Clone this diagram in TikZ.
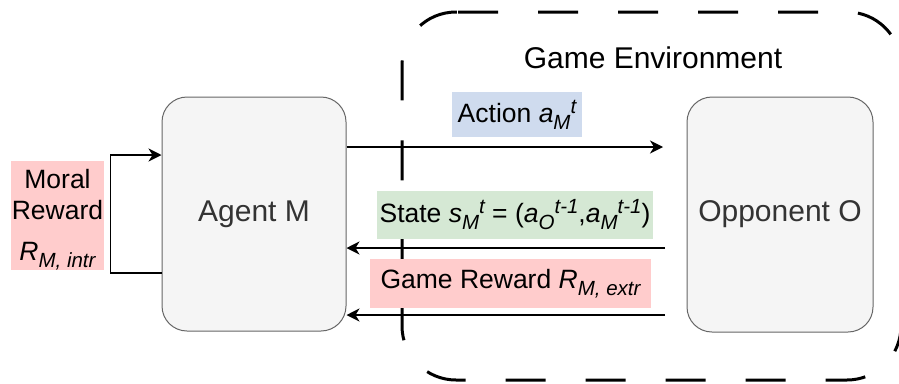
\documentclass[tikz,border=0pt]{standalone}
\usepackage{fontspec}
\setmainfont{Liberation Sans}
\usetikzlibrary{arrows.meta}
\definecolor{boxfill}{HTML}{F5F5F5}
\definecolor{boxline}{HTML}{666666}
\definecolor{boxtext}{HTML}{333333}
\definecolor{lblblue}{HTML}{CFDBEE}
\definecolor{lblgreen}{HTML}{D5E8D4}
\definecolor{lblpink}{HTML}{FFCCCC}
\newcommand\lo[1]{\raisebox{-7pt}{\fontsize{20.5}{20}\selectfont\itshape #1}}
\newcommand\hi[1]{\raisebox{9pt}{\fontsize{20.5}{20}\selectfont\itshape #1}}
\tikzset{
  actor/.style={draw=boxline, line width=1pt, fill=boxfill, rounded corners=25pt,
    text=boxtext, font=\fontsize{30}{36}\selectfont, inner sep=0pt},
  lbl/.style={inner sep=0pt, font=\fontsize{26.5}{31}\selectfont, text=black},
  arr/.style={line width=1.5pt, -{Stealth[length=13pt,width=13pt,inset=4pt]}},
  envline/.style={line width=3pt, dash pattern=on 40pt off 40pt, rounded corners=54pt}
}
\begin{document}
\begin{tikzpicture}[x=1pt,y=-1pt]
\useasboundingbox (0,0) rectangle (899,383);
% environment
\draw[envline] (458,12) -- (901,12) -- (901,380) -- (402,380) -- (402,12) -- (458,12);
\node[font=\fontsize{30}{36}\selectfont] (envtitle) at (653,58) {Game Environment};
% actors
\node[actor, minimum width=184pt, minimum height=234pt] (agent) at (254,214) {Agent M};
\node[actor, minimum width=186pt, minimum height=235pt] (opp) at (780,214.5) {Opponent O};
% free ends
\coordinate (actE) at (663,147);
\coordinate (stS) at (665,248);
\coordinate (rwS) at (665,315);
% connectors
\draw[arr] ([yshift=67pt]agent.east) -- (actE);
\draw[arr] (stS) -- ([yshift=-34pt]agent.east);
\draw[arr] (rwS) -- ([yshift=-101pt]agent.east);
\draw[arr] ([yshift=-59pt]agent.west) -- ++(-51pt,0pt) |- ([yshift=59pt]agent.west);
% labels
\node[lbl, fill=lblblue, minimum width=130pt, minimum height=45pt] (actL) at (517,114.5)
  {Action \textit{a}\lo{M}\hi{t}};
\node[lbl, fill=lblgreen, minimum width=276pt, minimum height=48pt] (stL) at (515,215)
  {State \textit{s}\lo{M}\hi{t} = (\textit{a}\lo{O}\hi{t-1},\textit{a}\lo{M}\hi{t-1})};
\node[lbl, fill=lblpink, minimum width=281pt, minimum height=49pt] (rwL) at (510.5,283.5)
  {Game Reward \textit{R}\lo{M, extr}};
\node[lbl, fill=lblpink, minimum width=93pt, minimum height=109pt] (moral) at (57.5,215.5)
  {\raisebox{-3pt}[\height][\depth]{\begin{tabular}{@{}c@{}}Moral\\Reward\\[10pt]\textit{R}\lo{M, intr}\end{tabular}}};
\end{tikzpicture}
\end{document}
